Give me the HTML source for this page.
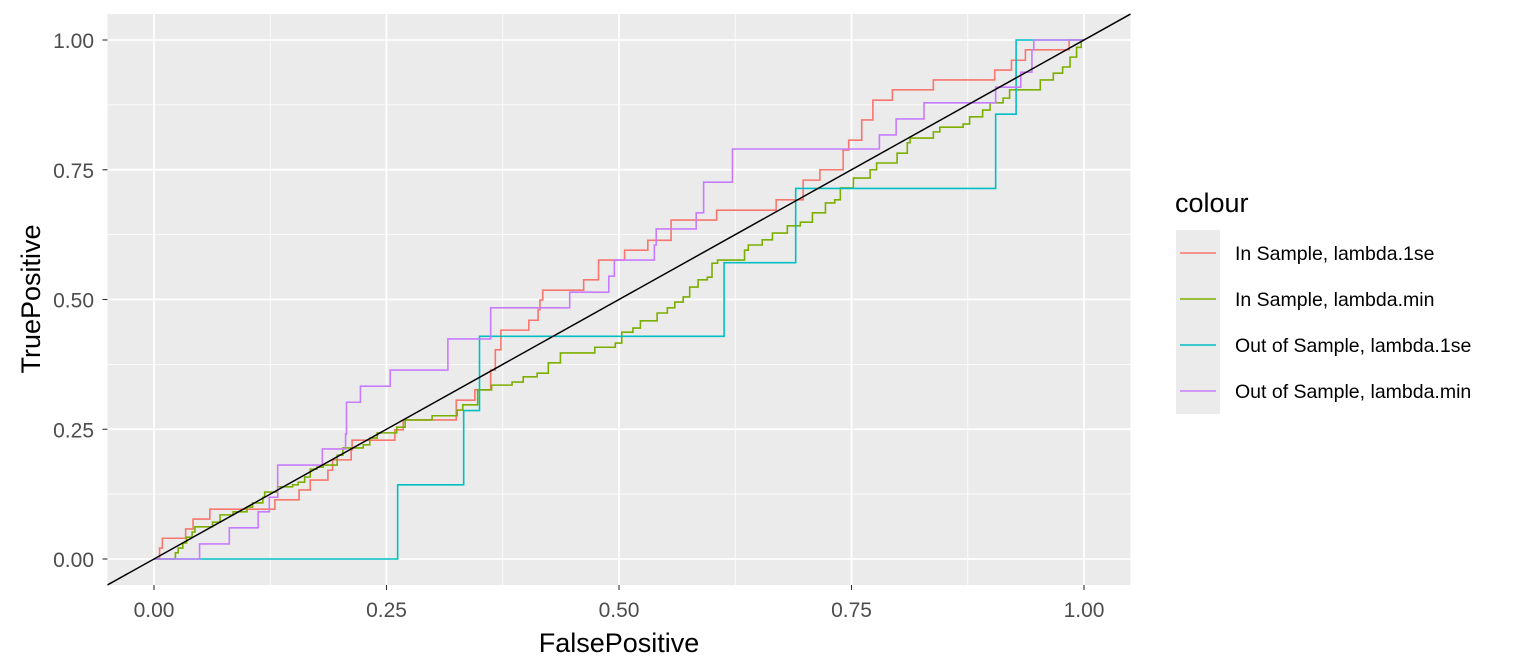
<!DOCTYPE html>
<html><head><meta charset="utf-8"><style>
body{margin:0;background:#fff;font-family:"Liberation Sans",sans-serif}
svg{display:block}
</style></head><body>
<svg id="chart" width="1536" height="672">
<rect x="107.5" y="14" width="1023" height="571" fill="#ebebeb"/>
<g id="grid"></g><g id="series"></g><g id="axes"></g><g id="legend"></g>
</svg>
<script>
const xTicks=[0,0.25,0.5,0.75,1];
const yTicks=[0,0.25,0.5,0.75,1];
const tickLabels=["0.00","0.25","0.50","0.75","1.00"];
const seriesNames=["In Sample, lambda.1se","In Sample, lambda.min","Out of Sample, lambda.1se","Out of Sample, lambda.min"];
const seriesColors=["#F8766D","#7CAE00","#00BFC4","#C77CFF"];
const in1seX=[0,.006,.009,.034,.042,.060,.130,.156,.168,.187,.192,.212,.213,.259,.268,.325,.345,.362,.367,.373,.403,.413,.415,.418,.462,.478,.506,.531,.556,.605,.669,.698,.716,.741,.747,.761,.773,.794,.838,.904,.922,.937,.984,1];
const in1seY=[0,.021,.040,.058,.077,.096,.114,.133,.152,.171,.191,.210,.229,.249,.268,.306,.326,.364,.403,.441,.460,.480,.499,.518,.538,.576,.595,.614,.653,.672,.692,.730,.750,.788,.807,.846,.884,.904,.923,.942,.961,.981,1.0,1.0];
const inMinX=[0,.018,.023,.026,.031,.035,.041,.044,.063,.071,.085,.100,.106,.117,.119,.133,.149,.155,.162,.168,.175,.182,.197,.203,.225,.232,.240,.261,.270,.299,.326,.332,.348,.363,.385,.397,.412,.424,.437,.474,.496,.503,.515,.523,.541,.552,.560,.569,.576,.585,.595,.600,.606,.635,.639,.654,.665,.681,.695,.708,.722,.732,.738,.752,.770,.777,.799,.810,.813,.838,.845,.870,.877,.891,.899,.913,.920,.953,.967,.977,.985,.992,.997,1];
const inMinY=[0,0,.012,.021,.031,.042,.052,.062,.071,.085,.091,.100,.108,.119,.129,.139,.143,.148,.158,.173,.177,.181,.200,.214,.220,.233,.243,.254,.268,.276,.287,.297,.326,.335,.341,.351,.358,.378,.397,.408,.416,.437,.445,.459,.474,.484,.495,.505,.524,.538,.543,.570,.576,.595,.605,.615,.628,.642,.649,.667,.686,.692,.715,.734,.750,.763,.782,.802,.811,.823,.832,.838,.852,.865,.879,.888,.904,.923,.936,.948,.967,.986,1.0,1.0];
const out1seX=[0,.262,.333,.350,.613,.690,.905,.927,1];
const out1seY=[0,.143,.286,.429,.571,.714,.857,1.0,1.0];
const outMinX=[0,.049,.081,.112,.124,.133,.181,.206,.207,.222,.254,.316,.362,.447,.489,.495,.538,.540,.583,.591,.622,.780,.798,.828,.905,.932,.944,.946,1];
const outMinY=[0,.029,.060,.091,.119,.181,.212,.241,.302,.333,.364,.424,.484,.514,.545,.576,.605,.636,.667,.726,.790,.817,.848,.879,.909,.938,.981,1.0,1.0];
const NS="http://www.w3.org/2000/svg";
const sx=v=>154+v*930, sy=v=>559-v*519;
function mk(tag,attrs,parent,text){const e=document.createElementNS(NS,tag);for(const k in attrs)e.setAttribute(k,attrs[k]);if(text!==undefined)e.textContent=text;parent.appendChild(e);return e;}
const grid=document.getElementById('grid');
[0.125,0.375,0.625,0.875].forEach(v=>{
 const l=mk('line',{x1:sx(v),x2:sx(v),y1:14,y2:585,stroke:'#fff','stroke-width':0.8},grid);
 
 
 const m=mk('line',{x1:107.5,x2:1130.5,y1:sy(v),y2:sy(v),stroke:'#fff','stroke-width':0.8},grid);
 
 
});
xTicks.forEach(v=>{const l=mk('line',{x1:sx(v),x2:sx(v),y1:14,y2:585,stroke:'#fff','stroke-width':1.8},grid);
 
 });
yTicks.forEach(v=>{const l=mk('line',{x1:107.5,x2:1130.5,y1:sy(v),y2:sy(v),stroke:'#fff','stroke-width':1.8},grid);
 
 });
const ser=document.getElementById('series');
function stepPath(xs,ys){let d='M'+sx(xs[0])+','+sy(ys[0]);for(let i=1;i<xs.length;i++){d+=' H'+sx(xs[i])+' V'+sy(ys[i]);}return d;}
const data=[[in1seX,in1seY],[inMinX,inMinY],[out1seX,out1seY],[outMinX,outMinY]];
const snames=['in-sample-1se-line','in-sample-min-line','out-sample-1se-line','out-sample-min-line'];
data.forEach((d,i)=>{const p=mk('path',{d:stepPath(d[0],d[1]),fill:'none',stroke:seriesColors[i],'stroke-width':1.6},ser);
 
 });
const diag=mk('line',{x1:sx(-0.05),y1:sy(-0.05),x2:sx(1.05),y2:sy(1.05),stroke:'#000','stroke-width':1.5},ser);


const ax=document.getElementById('axes');
xTicks.forEach((v,i)=>{mk('line',{x1:sx(v),x2:sx(v),y1:585,y2:590,stroke:'#333','stroke-width':1.1},ax);
 const t=mk('text',{x:sx(v),y:617,'text-anchor':'middle','font-size':21,fill:'#4d4d4d'},ax,tickLabels[i]);
 
 });
yTicks.forEach((v,i)=>{mk('line',{x1:102.5,x2:107.5,y1:sy(v),y2:sy(v),stroke:'#333','stroke-width':1.1},ax);
 const t=mk('text',{x:94,y:sy(v)+8,'text-anchor':'end','font-size':21,fill:'#4d4d4d'},ax,tickLabels[i]);
 
 });
const xt=mk('text',{x:619,y:652,'text-anchor':'middle','font-size':27,fill:'#000'},ax,'FalsePositive');


const yt=mk('text',{x:0,y:0,transform:'translate(40,299) rotate(-90)','text-anchor':'middle','font-size':27,fill:'#000'},ax,'TruePositive');


const lg=document.getElementById('legend');
const lt=mk('text',{x:1175,y:212,'font-size':27,fill:'#000'},lg,'colour');


seriesNames.forEach((n,i)=>{const cy=253+i*46;
 const g=mk('g',{},lg);
 
 
 mk('rect',{x:1176,y:cy-23,width:44,height:46,fill:'#ebebeb'},g);
 mk('line',{x1:1180,x2:1216,y1:cy,y2:cy,stroke:seriesColors[i],'stroke-width':1.6},g);
 mk('text',{x:1235,y:cy+7,'font-size':19.5,fill:'#000'},g,n);});
</script>
</body></html>
